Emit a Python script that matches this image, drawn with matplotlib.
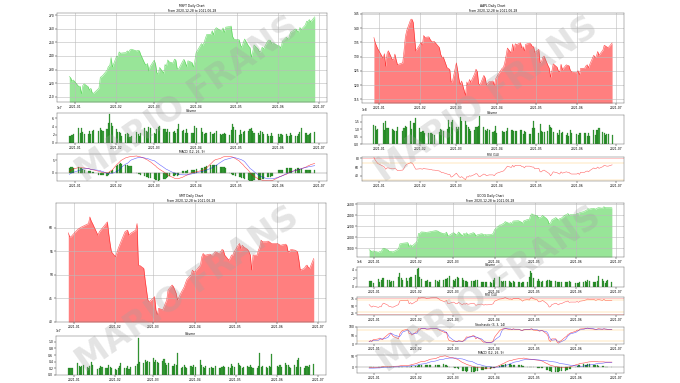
import matplotlib
matplotlib.use('Agg')
import matplotlib.pyplot as plt
import matplotlib.dates as mdates
import pandas as pd

W, H = 680, 383

holidays = ['2021-01-01', '2021-01-18', '2021-02-15', '2021-04-02', '2021-05-31']
dates = pd.bdate_range('2020-12-28', '2021-06-28')
dates = dates[~dates.isin(pd.to_datetime(holidays))]

# ---------------- MSFT ----------------
msft_close = [224.96, 224.15, 221.68, 222.42,
    217.69, 217.90, 212.25, 218.29, 219.62, 217.49, 214.93, 216.34, 213.02, 212.65, 216.44, 224.34, 224.97, 225.95, 229.53, 232.33, 232.90, 238.93, 231.96,
    239.65, 239.51, 243.00, 242.01, 242.20, 242.47, 243.77, 242.82, 244.49, 244.99, 243.70, 244.20, 243.79, 240.97, 234.51, 233.27, 234.55, 228.99, 232.38,
    236.94, 233.87, 227.56, 226.73, 231.60, 227.39, 233.78, 232.42, 237.13, 235.75, 234.81, 237.71, 237.04, 230.72, 230.35, 235.99, 237.58, 235.46, 232.34, 236.48, 235.24, 231.85, 235.77,
    242.35, 249.07, 247.86, 249.90, 253.25, 255.85, 255.91, 258.49, 255.59, 259.50, 260.74, 258.74, 258.26, 260.58, 257.17, 261.15, 261.55, 261.97, 254.56, 252.51, 252.18,
    251.86, 247.79, 246.47, 249.73, 252.46, 247.18, 246.23, 239.00, 243.03, 248.15, 245.18, 243.08, 243.12, 246.48, 245.17, 250.78, 251.72, 251.49, 249.31, 249.68,
    247.40, 247.30, 245.71, 250.79, 253.81, 252.57, 253.59, 257.24, 257.89, 259.89, 258.36, 257.38, 260.90, 259.43, 262.63, 265.51, 265.27, 266.69, 265.02, 268.72]
msft_volume = [17.9, 17.4, 20.3, 20.9,
    37.1, 23.8, 35.9, 27.7, 22.9, 23.0, 30.1, 22.8, 29.3, 31.8, 29.6, 37.8, 30.7, 30.2, 33.2, 49.2, 69.9, 49.1, 42.5,
    33.3, 25.9, 27.3, 25.3, 18.1, 22.9, 23.6, 22.1, 15.8, 16.6, 26.7, 21.5, 16.9, 25.3, 36.4, 30.2, 26.3, 39.5, 37.8,
    24.8, 22.8, 34.8, 39.0, 41.8, 35.3, 35.3, 27.0, 34.8, 27.0, 27.9, 30.3, 24.3, 34.9, 46.4, 30.1, 31.6, 25.6, 34.1, 25.5, 24.9, 24.4, 42.3,
    36.9, 36.9, 26.6, 23.0, 24.5, 25.1, 27.1, 23.0, 23.1, 25.6, 30.0, 23.2, 19.7, 21.1, 25.6, 21.2, 19.7, 31.0, 46.9, 40.1, 30.9,
    19.6, 32.8, 21.9, 26.4, 29.3, 29.3, 33.6, 36.7, 29.6, 23.9, 24.1, 20.2, 29.5, 26.1, 21.9, 21.1, 17.9, 17.8, 24.4, 18.3,
    23.2, 15.0, 21.3, 20.7, 23.1, 17.6, 17.9, 23.9, 19.2, 17.9, 17.7, 21.0, 27.6, 37.1, 24.3, 24.4, 19.3, 21.5, 25.6, 26.6]
msft_macd = [0.4, 0.8, 1.2, 1.5,
    2.0, 2.0, 2.0, 1.9, 1.9, 1.6, 1.5, 1.3, 1.2, 1.1, 0.5, 0.4, 0.1, 0.0, -0.1, 0.0, 0.4, 0.8, 1.1,
    3.1, 3.6, 4.1, 4.7, 5.1, 6.0, 6.1, 6.3, 6.4, 6.5, 6.7, 6.5, 6.4, 6.3, 5.7, 5.3, 5.1, 4.7, 4.4,
    3.1, 2.7, 2.1, 1.7, 1.3, 0.3, -0.1, -0.5, -0.9, -1.3, -2.0, -2.3, -2.4, -2.5, -2.4, -1.9, -1.6, -1.3, -1.1, -0.8, -0.1, 0.0, 0.1,
    0.3, 0.8, 0.9, 1.2, 1.5, 2.0, 3.6, 4.1, 4.7, 5.1, 5.3, 5.7, 6.0, 6.3, 6.4, 6.4, 6.4, 6.4, 6.3, 6.0, 5.7,
    4.7, 4.1, 3.6, 3.1, 2.4, 0.8, 0.0, -0.5, -1.1, -1.5, -2.5, -2.8, -2.9, -3.1, -3.2, -3.3, -3.3, -3.3, -3.2, -3.1,
    -2.0, -1.7, -1.5, -1.2, -0.7, -0.3, 0.0, 0.4, 0.5, 0.8, 1.1, 1.2, 1.3, 1.6, 2.1, 2.4, 2.7, 2.9, 3.2, 3.7]
msft_signal = [-0.7, -0.4, -0.1, 0.1,
    0.8, 0.9, 1.2, 1.3, 1.6, 1.6, 1.5, 1.3, 1.3, 1.2, 0.9, 0.8, 0.5, 0.4, -0.3, -0.3, -0.3, -0.3, -0.3,
    0.4, 0.8, 1.1, 1.6, 2.3, 3.5, 3.7, 4.1, 4.7, 5.1, 5.9, 6.0, 6.1, 6.1, 5.9, 5.7, 5.6, 5.5, 5.2,
    4.8, 4.4, 4.0, 3.6, 3.2, 2.1, 1.7, 1.3, 1.1, 0.8, 0.0, -0.1, -0.4, -0.5, -0.7, -0.9, -0.9, -0.9, -0.9, -0.9, -0.5, -0.4, -0.3,
    -0.1, 0.4, 0.5, 0.7, 0.8, 1.1, 1.7, 2.0, 2.4, 2.7, 2.9, 4.1, 4.4, 4.8, 5.1, 5.3, 5.7, 5.9, 6.0, 6.0, 6.0,
    5.5, 5.3, 5.1, 4.8, 4.4, 2.4, 1.7, 1.3, 0.9, 0.4, -0.9, -1.2, -1.6, -1.7, -2.0, -2.5, -2.5, -2.5, -2.5, -2.5,
    -1.9, -1.6, -1.5, -1.3, -0.4, -0.3, -0.1, 0.1, 0.4, 0.9, 1.1, 1.2, 1.3, 1.6, 2.0, 2.1, 2.3, 2.4, 2.5, 2.8]
msft_hist = [1.7, 2.1, 2.4, 2.0,
    2.4, 2.0, 1.7, 1.5, 1.2, 0.8, 0.7, 0.5, 0.3, 0.2, -0.8, -1.0, -1.1, -1.0, -1.2, -1.0, 0.3, 0.8, 1.2,
    2.5, 3.0, 3.4, 3.7, 3.5, 3.2, 3.0, 2.8, 2.7, 2.5, -0.3, -0.5, -0.7, -0.9, -1.3, -1.6, -1.8, -2.0, -2.2,
    -2.5, -2.8, -3.0, -3.2, -2.9, -2.6, -2.4, -2.1, -1.8, -1.5, -1.3, -1.2, -1.1, -1.2, -1.0, 0.6, 0.7, 0.6, 0.8, 0.9, 1.0, 1.1, 1.0,
    1.5, 1.8, 2.0, 2.2, 2.4, 2.5, 3.0, 3.1, 3.2, 3.0, 2.9, 2.4, 2.2, 2.3, 2.1, 2.0, -0.3, -0.6, -0.8, -1.0, -1.2,
    -1.6, -1.8, -2.1, -2.3, -2.4, -3.0, -3.2, -3.3, -3.2, -3.1, -3.0, -2.9, -2.8, -2.7, -2.5, -1.8, -1.7, -1.6, -1.5, -1.5,
    1.0, 1.1, 1.0, 0.9, 1.8, 1.9, 2.0, 2.0, 1.9, 1.6, 1.7, 1.8, 1.6, 1.5, 1.0, 1.1, 1.0, 0.9, 1.0, 1.1]

# ---------------- AAPL ----------------
aapl_close = [136.69, 134.87, 133.72, 132.69,
    129.41, 131.01, 126.60, 130.92, 132.05, 128.98, 128.80, 130.89, 128.91, 127.14, 127.83, 132.03, 136.87, 139.07, 142.92, 143.16, 142.06, 137.09, 131.96,
    134.14, 134.99, 133.94, 137.39, 136.76, 136.91, 136.01, 135.39, 135.13, 135.37, 133.19, 130.84, 129.71, 129.87, 126.00, 125.86, 125.35, 120.99, 121.26,
    127.79, 125.12, 122.06, 120.13, 121.42, 116.36, 121.09, 119.98, 121.96, 121.03, 123.99, 125.57, 124.76, 120.53, 119.99, 123.39, 122.54, 120.09, 120.59, 121.21, 121.39, 119.90, 122.15,
    123.00, 125.90, 126.21, 127.90, 130.36, 133.00, 131.24, 134.43, 132.03, 134.50, 134.16, 134.84, 133.11, 133.50, 131.94, 134.32, 134.72, 134.39, 133.58, 133.48, 131.46,
    132.54, 127.85, 128.10, 129.74, 130.21, 126.85, 125.91, 122.77, 124.97, 127.45, 126.27, 124.85, 124.69, 127.31, 125.43, 127.10, 126.90, 126.85, 125.28, 124.61,
    124.28, 125.06, 123.54, 125.89, 125.90, 126.74, 127.13, 126.11, 127.35, 130.48, 129.64, 130.15, 131.79, 130.46, 132.30, 133.98, 133.70, 133.41, 133.11, 134.78]
aapl_volume = [124, 121, 96, 99,
    143, 97, 155, 109, 105, 100, 91, 88, 90, 111, 90, 104, 120, 114, 157, 98, 140, 142, 177,
    106, 83, 89, 84, 75, 71, 76, 73, 64, 60, 80, 98, 96, 87, 103, 158, 111, 148, 164,
    116, 102, 112, 178, 153, 154, 129, 111, 103, 88, 92, 115, 111, 121, 185, 111, 95, 88, 98, 94, 80, 85, 118,
    75, 88, 80, 83, 88, 106, 91, 91, 87, 89, 84, 94, 94, 68, 84, 78, 66, 66, 107, 151, 110,
    75, 137, 84, 78, 78, 88, 126, 112, 105, 82, 74, 63, 92, 76, 79, 63, 72, 56, 94, 72,
    67, 59, 76, 75, 71, 74, 56, 71, 53, 96, 62, 91, 96, 108, 79, 74, 60, 68, 70, 62]
aapl_rsi = [82, 76, 72, 68,
    62, 60, 55, 58, 58, 56, 56, 57, 55, 52, 53, 57, 63, 66, 70, 69, 66, 60, 55,
    56, 56, 55, 57, 56, 55, 54, 54, 53, 53, 51, 49, 47, 47, 44, 43, 43, 37, 38,
    46, 42, 38, 36, 38, 31, 38, 37, 40, 39, 43, 45, 44, 39, 38, 44, 43, 40, 41, 42, 42, 40, 44,
    46, 50, 51, 54, 58, 62, 59, 64, 60, 64, 63, 64, 61, 61, 58, 62, 62, 61, 60, 60, 56,
    57, 49, 49, 52, 53, 47, 45, 40, 44, 49, 47, 45, 44, 49, 46, 49, 48, 48, 45, 44,
    44, 46, 43, 48, 48, 50, 51, 49, 52, 58, 56, 57, 60, 57, 61, 64, 63, 62, 62, 65]

# ---------------- SMT ----------------
smt_close = [58.93, 58.08, 58.08, 58.43,
    59.64, 59.85, 60.06, 60.21, 60.35, 60.77, 60.92, 62.33, 61.48, 60.92, 58.43, 59.14, 59.50, 59.85, 60.92, 61.27, 58.79, 56.66, 54.89,
    53.83, 54.68, 55.60, 56.31, 57.02, 59.14, 59.36, 59.50, 58.43, 58.79, 59.50, 60.92, 52.05, 51.98, 51.34, 48.86, 46.74, 44.61, 44.25,
    44.96, 45.32, 42.48, 41.42, 42.84, 42.48, 43.19, 43.90, 44.61, 46.74, 47.80, 47.44, 46.74, 46.03, 44.61, 46.38, 46.88, 47.44, 48.30, 49.00, 49.93, 50.99, 50.64,
    50.64, 52.05, 53.83, 54.53, 54.18, 54.18, 54.39, 54.18, 54.18, 54.53, 54.89, 54.53, 54.89, 55.39, 55.24, 54.18, 53.12, 53.47, 54.18, 54.18, 54.89,
    56.31, 56.66, 55.60, 56.31, 55.95, 55.39, 54.89, 54.18, 50.99, 54.18, 54.18, 55.24, 55.95, 57.37, 57.02, 57.02, 57.16, 57.02, 56.80, 56.66,
    56.66, 56.52, 56.31, 56.31, 56.52, 56.31, 54.89, 54.89, 55.39, 55.24, 55.10, 54.89, 53.12, 50.99, 51.34, 51.84, 52.05, 51.56, 51.34, 53.47]
smt_volume = [2.0, 2.0, 2.0, 2.0,
    3.5, 2.8, 2.5, 2.7, 3.0, 2.5, 2.2, 2.8, 4.0, 3.0, 1.8, 2.2, 2.8, 2.5, 2.0, 2.2, 3.0, 2.5, 2.0,
    1.8, 1.5, 2.0, 2.8, 3.5, 2.2, 2.0, 2.6, 1.8, 2.4, 2.8, 3.2, 11.2, 4.0, 3.5, 4.5, 3.8, 4.2, 4.0,
    5.0, 4.0, 4.5, 3.8, 3.5, 4.2, 4.8, 3.6, 3.0, 3.5, 2.8, 2.6, 3.2, 3.0, 6.5, 2.2, 2.5, 3.0, 2.5, 2.0, 2.8, 2.5, 3.0,
    2.5, 4.5, 3.0, 2.5, 2.2, 2.8, 2.0, 2.5, 2.2, 2.0, 2.8, 2.2, 2.0, 2.5, 2.8, 2.4, 2.5, 2.2, 3.2, 2.6, 2.4,
    3.5, 3.0, 2.6, 2.2, 2.5, 2.8, 2.5, 3.0, 2.5, 2.0, 2.2, 2.6, 6.7, 2.5, 2.8, 2.5, 2.2, 2.8, 2.4, 6.2,
    2.8, 2.5, 3.0, 2.5, 3.5, 3.0, 3.0, 2.4, 2.2, 3.0, 2.5, 4.5, 5.0, 2.4, 2.0, 2.6, 2.8, 2.4, 3.0, 3.2]

# ---------------- GOOG ----------------
goog_close = [1776, 1758, 1739, 1752,
    1728, 1741, 1735, 1788, 1802, 1772, 1746, 1746, 1737, 1736, 1787, 1880, 1885, 1892, 1900, 1902, 1830, 1864, 1836,
    1901, 1928, 2070, 2062, 2098, 2093, 2084, 2095, 2096, 2104, 2121, 2117, 2106, 2089, 2064, 2070, 2095, 2031, 2036,
    2082, 2075, 2049, 2049, 2097, 2025, 2072, 2052, 2083, 2049, 2073, 2084, 2073, 2026, 2043, 2064, 2062, 2040, 2053, 2044, 2052, 2056, 2069,
    2137, 2225, 2224, 2243, 2253, 2285, 2254, 2267, 2254, 2296, 2298, 2302, 2290, 2278, 2254, 2299, 2326, 2316, 2395, 2429, 2410,
    2395, 2355, 2357, 2368, 2398, 2342, 2309, 2240, 2261, 2317, 2359, 2336, 2312, 2343, 2346, 2407, 2408, 2434, 2402, 2412,
    2412, 2436, 2422, 2451, 2467, 2483, 2491, 2521, 2513, 2527, 2520, 2513, 2531, 2539, 2529, 2557, 2540, 2539, 2540, 2537]
goog_volume = [1.39, 1.50, 1.29, 1.01,
    1.90, 1.15, 1.69, 2.16, 2.05, 1.62, 1.55, 1.24, 1.49, 1.35, 2.23, 3.20, 2.01, 1.58, 2.17, 1.40, 1.98, 2.31, 2.21,
    2.77, 4.23, 4.43, 2.27, 1.77, 1.39, 1.46, 1.54, 1.22, 1.06, 1.56, 1.37, 1.25, 1.69, 1.55, 1.82, 1.84, 2.15, 2.47,
    1.63, 1.32, 1.95, 2.22, 2.07, 2.14, 1.69, 1.42, 1.39, 1.20, 1.32, 1.49, 1.32, 1.74, 1.63, 1.22, 1.08, 1.16, 1.14, 1.21, 1.14, 1.01, 1.58,
    2.07, 2.21, 1.36, 1.25, 1.36, 1.35, 1.32, 1.05, 1.03, 1.43, 1.19, 1.18, 1.23, 0.97, 1.10, 1.27, 1.27, 2.26, 3.83, 3.16, 2.11,
    1.33, 1.81, 1.47, 1.17, 1.45, 1.37, 1.59, 1.63, 1.35, 1.41, 1.44, 1.07, 1.22, 1.13, 1.08, 1.10, 1.07, 1.11, 1.50, 1.06,
    0.92, 0.95, 0.99, 1.27, 1.25, 1.37, 1.13, 1.61, 1.32, 1.21, 1.14, 1.20, 1.39, 2.50, 1.80, 1.39, 0.98, 1.46, 1.61, 1.09]
goog_rsi = [55, 50, 46, 50,
    45, 48, 47, 57, 60, 53, 48, 48, 46, 46, 55, 68, 69, 70, 70, 71, 58, 62, 57,
    66, 68, 80, 78, 80, 79, 77, 78, 78, 79, 80, 79, 76, 72, 66, 67, 70, 58, 59,
    64, 62, 58, 58, 63, 54, 59, 56, 60, 56, 59, 60, 58, 52, 54, 57, 56, 53, 55, 54, 55, 56, 58,
    67, 75, 75, 77, 78, 80, 74, 75, 72, 76, 76, 77, 74, 72, 67, 71, 73, 71, 78, 80, 76,
    72, 65, 65, 67, 70, 60, 55, 46, 48, 55, 60, 57, 54, 58, 58, 65, 65, 68, 63, 64,
    64, 66, 63, 67, 69, 71, 72, 75, 73, 74, 72, 70, 72, 73, 70, 74, 70, 70, 70, 69]
goog_stoch_k = [15, 20, 15, 25,
    30, 35, 28, 25, 35, 55, 62, 65, 55, 45, 30, 60, 72, 80, 85, 84, 60, 62, 52,
    70, 72, 90, 88, 92, 90, 87, 88, 89, 90, 92, 89, 85, 80, 70, 65, 70, 35, 20,
    15, 18, 15, 14, 20, 15, 22, 30, 42, 40, 46, 50, 45, 30, 38, 25, 15, 10, 12, 8, 9, 12, 18,
    40, 80, 85, 88, 90, 92, 85, 88, 84, 90, 87, 86, 84, 80, 78, 85, 85, 84, 88, 90, 82,
    80, 78, 75, 80, 78, 60, 50, 20, 15, 30, 30, 10, 5, 15, 20, 40, 45, 55, 60, 65,
    75, 82, 80, 88, 90, 92, 92, 94, 90, 88, 86, 84, 88, 90, 86, 90, 88, 85, 86, 86]
goog_stoch_d = [15, 17, 17, 20,
    22, 28, 31, 30, 30, 38, 48, 60, 62, 55, 45, 45, 55, 70, 79, 83, 76, 69, 58,
    62, 64, 78, 83, 90, 90, 89, 88, 88, 89, 90, 90, 88, 84, 78, 72, 68, 57, 42,
    24, 18, 16, 15, 16, 16, 18, 22, 31, 38, 43, 45, 47, 42, 38, 31, 26, 17, 12, 10, 10, 10, 13,
    23, 46, 68, 84, 88, 90, 89, 88, 86, 87, 87, 87, 84, 81, 81, 83, 85, 86, 87, 87, 85,
    84, 80, 78, 78, 78, 72, 63, 43, 28, 22, 25, 18, 15, 10, 13, 25, 35, 47, 53, 60,
    68, 74, 79, 83, 86, 90, 91, 92, 92, 90, 88, 86, 86, 87, 88, 88, 88, 88, 86, 86]
goog_macd = [0, 0, -1, 0,
    1, 1, 2, 3, 4, 4, 4, 4, 4, 5, 6, 7, 8, 8, 8, 9, 10, 11, 13,
    17, 19, 22, 24, 26, 28, 30, 32, 35, 37, 40, 43, 45, 48, 51, 52, 50, 48, 46,
    43, 41, 39, 37, 34, 22, 20, 17, 14, 12, 6, 5, 3, 1, 0, -2, -3, -3, -3, -3, -3, -2, -1,
    0, 10, 13, 16, 18, 22, 30, 31, 32, 34, 36, 39, 40, 41, 41, 42, 38, 37, 37, 36, 35,
    33, 32, 31, 30, 28, 18, 16, 12, 10, 8, 4, 3, 2, 1, 0, 0, 0, 1, 2, 3,
    12, 14, 15, 18, 20, 21, 22, 24, 25, 26, 26, 26, 26, 25, 25, 25, 24, 24, 24, 24]
goog_signal = [-3, -3, -3, -3,
    -2, -2, -1, -1, 0, 0, 1, 1, 2, 2, 3, 3, 4, 4, 4, 5, 6, 7, 8,
    10, 11, 13, 14, 15, 17, 19, 21, 23, 25, 29, 31, 33, 35, 37, 39, 40, 41, 42,
    42, 42, 42, 41, 40, 38, 36, 34, 32, 29, 27, 24, 21, 18, 15, 11, 9, 7, 6, 5, 3, 2, 1,
    1, 2, 3, 5, 6, 8, 14, 17, 19, 22, 24, 27, 29, 31, 33, 34, 37, 37, 36, 36, 35,
    34, 34, 33, 32, 31, 30, 29, 28, 27, 26, 24, 22, 20, 18, 17, 15, 13, 12, 11, 10,
    8, 7, 6, 5, 6, 8, 9, 10, 11, 13, 14, 16, 17, 18, 19, 20, 21, 22, 22, 22]
goog_hist = [3, 3, 2, 3,
    3, 3, 3, 4, 4, 4, 3, 3, 2, 3, 3, 4, 4, 4, 4, 4, 4, 4, 5,
    7, 8, 9, 10, 11, 11, 11, 11, 12, 12, 11, 12, 12, 13, 14, 13, 10, 7, 4,
    1, -1, -3, -4, -6, -16, -16, -17, -18, -17, -21, -19, -18, -17, -15, -13, -12, -10, -9, -8, -6, -4, -2,
    -1, 8, 10, 11, 12, 14, 16, 14, 13, 12, 12, 12, 11, 10, 8, 8, 1, 0, 1, 0, 0,
    -1, -2, -2, -2, -3, -12, -13, -16, -17, -18, -20, -19, -18, -17, -17, -15, -13, -11, -9, -7,
    4, 7, 9, 13, 14, 13, 13, 14, 14, 13, 12, 10, 9, 7, 6, 5, 3, 2, 2, 2]

msft_yticks = [210, 220, 230, 240, 250, 260, 270]
aapl_yticks = [115, 120, 125, 130, 135, 140, 145]
smt_yticks = [40, 45, 50, 55, 60]
goog_yticks = [1800, 2000, 2200, 2400, 2600]

FS = 2.2
fig = plt.figure(figsize=(W / 100, H / 100), dpi=100)


def axes_px(l, t, r, b):
    return fig.add_axes([l / W, 1 - b / H, (r - l) / W, (b - t) / H])


def style(ax):
    ax.tick_params(labelsize=FS, length=1.2, width=0.3, pad=0.8)
    for s in ax.spines.values():
        s.set_linewidth(0.3)
        s.set_color('#555555')
    ax.xaxis.set_major_locator(mdates.MonthLocator())
    ax.xaxis.set_major_formatter(mdates.DateFormatter('%Y-%m'))
    ax.yaxis.get_offset_text().set_fontsize(FS)


def price(ax, close, ylim, yticks, title):
    up = close[-1] >= close[0]
    col = 'limegreen' if up else 'red'
    ax.fill_between(dates, close, ylim[0], color=col, alpha=0.5, lw=0)
    ax.plot(dates, close, color=col, lw=0.4, alpha=0.7)
    ax.set_ylim(ylim)
    ax.set_yticks(yticks)
    ax.grid(True, color='#bbbbbb', lw=0.4)
    ax.set_title(title, fontsize=FS, pad=1.0, linespacing=1.1)
    style(ax)
    ax.margins(x=0.05)


def volume(ax, vol, scale, xlim):
    ax.bar(dates, [v * scale for v in vol], width=0.8, color='green', alpha=0.75,
           edgecolor='darkgreen', lw=0.2)
    ax.set_title('Volume', fontsize=FS, pad=1.0)
    style(ax)
    ax.set_xlim(xlim)


def macd(ax, m, s, h, xlim, ylim=None):
    ax.bar(dates, h, width=0.8, color='green', alpha=0.75, edgecolor='darkgreen', lw=0.2)
    ax.plot(dates, m, color='red', lw=0.4, alpha=0.7)
    ax.plot(dates, s, color='blue', lw=0.4, alpha=0.6)
    ax.axhline(0, color='#777777', lw=0.3)
    ax.set_title('MACD (12, 26, 9)', fontsize=FS, pad=1.0)
    style(ax)
    ax.set_xlim(xlim)
    if ylim:
        ax.set_ylim(ylim)


def rsi(ax, r, xlim, ylim):
    ax.plot(dates, r, color='red', lw=0.4, alpha=0.6)
    ax.axhline(80, color='red', lw=0.5, alpha=0.3)
    ax.axhline(20, color='red', lw=0.5, alpha=0.3)
    ax.axhline(70, color='orange', lw=0.3, alpha=0.6)
    ax.axhline(30, color='orange', lw=0.3, alpha=0.6)
    ax.set_title('RSI (14)', fontsize=FS, pad=1.0)
    style(ax)
    ax.set_xlim(xlim)
    ax.set_ylim(ylim)


# ---------------- top-left MSFT ----------------
ax = axes_px(57, 13, 327, 102)
price(ax, msft_close, (206.3, 271.5), msft_yticks,
      'MSFT Daily Chart\nFrom 2020-12-28 to 2021-06-28')
xl = ax.get_xlim()
volume(axes_px(57, 113, 327, 143), msft_volume, 1e6, xl)
macd(axes_px(57, 154, 327, 181), msft_macd, msft_signal, msft_hist, xl, (-3.4, 7.5))

# ---------------- top-right AAPL ----------------
ax = axes_px(362, 13, 624, 103)
price(ax, aapl_close, (113.7, 145.3), aapl_yticks,
      'AAPL Daily Chart\nFrom 2020-12-28 to 2021-06-28')
xl = ax.get_xlim()
volume(axes_px(362, 115, 624, 144), aapl_volume, 1e6, xl)
rsi(axes_px(362, 157, 624, 181), aapl_rsi, xl, (28, 83))

# ---------------- bottom-left SMT ----------------
ax = axes_px(56, 203, 326, 322)
price(ax, smt_close, (39.9, 65.3), smt_yticks,
      'SMT Daily Chart\nFrom 2020-12-28 to 2021-06-28')
xl = ax.get_xlim()
volume(axes_px(56, 336, 326, 375), smt_volume, 1e6, xl)

# ---------------- bottom-right GOOG ----------------
ax = axes_px(357, 203, 624, 257)
price(ax, goog_close, (1642, 2624), goog_yticks,
      'GOOG Daily Chart\nFrom 2020-12-28 to 2021-06-28')
xl = ax.get_xlim()
volume(axes_px(357, 267, 624, 287), goog_volume, 1e6, xl)
rsi(axes_px(357, 297, 624, 315), goog_rsi, xl, (18, 82))
ax = axes_px(357, 327, 624, 344)
ax.plot(dates, goog_stoch_k, color='red', lw=0.4, alpha=0.7)
ax.plot(dates, goog_stoch_d, color='blue', lw=0.4, alpha=0.6)
ax.axhline(80, color='orange', lw=0.3, alpha=0.6)
ax.axhline(20, color='orange', lw=0.3, alpha=0.6)
ax.set_title('Stochastic (3, 3, 14)', fontsize=FS, pad=1.0)
style(ax)
ax.set_xlim(xl)
ax.set_ylim(0, 100)
macd(axes_px(357, 355, 624, 373), goog_macd, goog_signal, goog_hist, xl)

# ---------------- watermarks ----------------
for cx, cy in [(188, 100), (487, 100), (188, 290), (490, 290)]:
    fig.text(cx / W, 1 - cy / H, 'MARIO FRANS', rotation=35, fontsize=24,
             fontweight='bold', color='#a0a0a0', alpha=0.28,
             ha='center', va='center', rotation_mode='anchor')

fig.savefig('out.png', dpi=100)
